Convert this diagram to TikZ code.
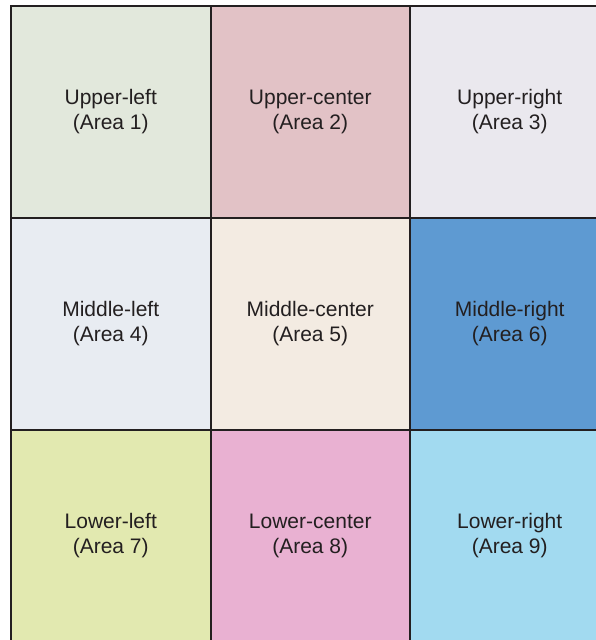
\documentclass[tikz,border=0pt]{standalone}
\usepackage{fontspec}
\setmainfont{Liberation Sans}
\definecolor{edgegray}{HTML}{231F20}
\definecolor{areaone}{HTML}{E2E8DC}
\definecolor{areatwo}{HTML}{E2C2C6}
\definecolor{areathree}{HTML}{EAE8EE}
\definecolor{areafour}{HTML}{E8ECF2}
\definecolor{areafive}{HTML}{F3EBE2}
\definecolor{areasix}{HTML}{5E9AD2}
\definecolor{areaseven}{HTML}{E2E9B0}
\definecolor{areaeight}{HTML}{E9B1D2}
\definecolor{areanine}{HTML}{A2DAF0}

\begin{document}
\begin{tikzpicture}[x=1pt,y=-1pt,
  cell/.style={draw=edgegray,line width=2pt,minimum width=199.5pt,minimum height=212pt,
    inner sep=0pt,outer sep=0pt,align=center,text=edgegray,font=\fontsize{21}{25}\selectfont}]
  \useasboundingbox (0,0) rectangle (596,640);
  \clip (0,0) rectangle (596,640);
  % fila de arriba
  \node[cell,fill=areaone]   (upleft)  at (110.75,112) {Upper-left\\(Area 1)};
  \node[cell,fill=areatwo]   (upmid)   at (310.25,112) {Upper-center\\(Area 2)};
  \node[cell,fill=areathree] (upright) at (509.75,112) {Upper-right\\(Area 3)};
  % fila del medio
  \node[cell,fill=areafour]  (midleft)  at (110.75,324) {Middle-left\\(Area 4)};
  \node[cell,fill=areafive]  (midmid)   at (310.25,324) {Middle-center\\(Area 5)};
  \node[cell,fill=areasix]   (midright) at (509.75,324) {Middle-right\\(Area 6)};
  % fila de abajo
  \node[cell,fill=areaseven] (lowleft)  at (110.75,536) {Lower-left\\(Area 7)};
  \node[cell,fill=areaeight] (lowmid)   at (310.25,536) {Lower-center\\(Area 8)};
  \node[cell,fill=areanine]  (lowright) at (509.75,536) {Lower-right\\(Area 9)};
\end{tikzpicture}
\end{document}
